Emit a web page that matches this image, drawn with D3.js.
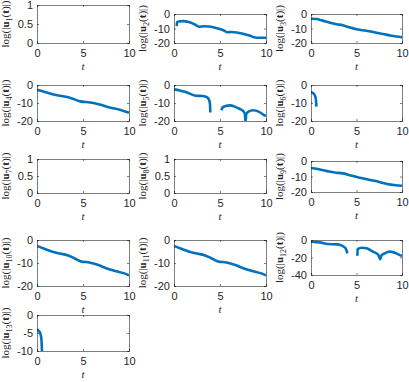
<!DOCTYPE html>
<html>
<head>
<meta charset="utf-8">
<script src="https://cdn.jsdelivr.net/npm/d3@7"></script>
<style>
  body { margin: 0; background: #fff; }
</style>
</head>
<body>
<div id="chart"></div>
<script>
// log(|u_k(t)|), [t, value] pairs, null = gap in the curve
const u1 = []
const u2 = [[0.3,-8.4],[0.33,-5.8],[0.5,-5.2],[1,-4.9],[1.6,-5.6],[2.2,-7],[2.8,-8.8],[3.2,-8.4],[3.8,-8.6],[4.4,-9.4],[5,-10.4],[5.5,-11.6],[5.8,-12.6],[6.2,-12.4],[6.8,-12.7],[7.5,-13.6],[8.2,-14.8],[8.8,-16.2],[9.3,-16.4],[10,-16.4]]
const u3 = [[0,-3.3],[0.6,-3.5],[1.2,-4.4],[2,-5.8],[2.8,-7],[3.5,-7.8],[4.2,-9.2],[5,-10.5],[5.7,-11.2],[6.4,-11.9],[7.2,-13],[7.9,-13.8],[8.7,-14.8],[9.4,-15.5],[10,-16]]
const u4 = [[0,-2.7],[0.7,-3.6],[1.4,-4.7],[2.5,-6],[3.3,-6.7],[3.9,-7.6],[4.7,-9.1],[5.8,-9.7],[6.8,-10.8],[7.9,-12.5],[9,-13.7],[10,-15.4]]
const u5 = [[0,-2.4],[0.6,-3],[1.2,-3.8],[1.9,-5.2],[2.4,-6],[3.1,-6.1],[3.5,-6.6],[3.75,-7.6],[3.9,-10],[3.95,-15.3],null,
            [5.15,-14],[5.3,-12.4],[5.6,-11.7],[6.1,-11.3],[6.6,-12],[7.1,-13.2],[7.5,-14.4],[7.7,-16],[7.78,-20.5],[7.85,-16.3],[8.1,-14.8],[8.6,-14],[9.2,-14.8],[9.7,-16.4],[10,-17.2]]
const u6 = [[0,-3.8],[0.2,-4.4],[0.4,-5.6],[0.52,-7.4],[0.6,-12]]
const u7 = []
const u8 = []
const u9 = [[0,-4.5],[1,-5.5],[2,-6.8],[2.6,-7.4],[3.5,-8],[4.5,-9.5],[5.5,-11],[6.5,-12.3],[7.5,-13.5],[8.5,-15],[9.3,-15.6],[10,-16]]
const u10 = [[0,-2.6],[0.8,-3.8],[1.6,-5],[2.5,-5.9],[3.3,-6.6],[4,-7.8],[4.8,-9.3],[5.7,-9.8],[6.6,-10.8],[7.6,-12.4],[8.6,-13.6],[9.4,-14.4],[10,-15.4]]
const u11 = [[0,-2.6],[0.8,-3.8],[1.6,-5],[2.5,-5.9],[3.3,-6.6],[4,-7.8],[4.8,-9.3],[5.7,-9.8],[6.6,-10.8],[7.6,-12.4],[8.6,-13.6],[9.4,-14.4],[10,-15.4]]
const u12 = [[0,-2],[0.6,-2.4],[1.1,-3],[1.8,-4.6],[2.9,-5],[3.4,-6.5],[3.8,-9.5],[4,-15.2],null,
             [5.1,-18],[5.12,-10.5],[5.6,-8.8],[6.1,-9.5],[6.8,-13.3],[7.4,-17],[7.6,-22],[7.75,-17.5],[8.1,-15.2],[8.6,-13.3],[9.2,-14.5],[9.7,-17],[10,-18.3]]
const u13 = [[0,-4],[0.18,-4.4],[0.36,-5.1],[0.47,-6.5],[0.55,-10.5]]

const series = [u1, u2, u3, u4, u5, u6, u7, u8, u9, u10, u11, u12, u13]
const yDomains = [[0,1],[-20,0],[-20,0],[-20,0],[-20,0],[-20,0],[0,1],[0,1],[-20,0],[-20,0],[-20,0],[-40,0],[-10,0]]
const yTicks = [[0,0.5,1],[-20,-10,0],[-20,-10,0],[-20,-10,0],[-20,-10,0],[-20,-10,0],[0,0.5,1],[0,0.5,1],[-20,-10,0],[-20,-10,0],[-20,-10,0],[-40,-20,0],[-10,-5,0]]
const xTicks = [0, 5, 10]
const xDomain = [0, 10]

// axes boxes [left, top, right, bottom] in page pixels (panels got different heights in the original)
const colX = [[37,129],[174,266],[311,402]]
const rowY = [[5,43],[14,43],[14,43],[85,121],[85,121],[85,121],[159,193],[159,193],[161,192],[240,286],[240,286],[240,275],[315,351]]

const W = 409, H = 382
const blue = "#0072BD", ink = "#262626"

const svg = d3.select("#chart").append("svg")
  .attr("width", W).attr("height", H)
  .style("font-family", "'Liberation Sans', Arial, sans-serif")

series.forEach((data, i) => {
  const [x0, x1] = colX[i % 3]
  const [y0, y1] = rowY[i]
  const w = x1 - x0, h = y1 - y0

  const x = d3.scaleLinear().domain(xDomain).range([0, w])
  const y = d3.scaleLinear().domain(yDomains[i]).range([h, 0])

  const g = svg.append("g").attr("transform", `translate(${x0},${y0})`)

  // clip curves to the box like matlab does
  g.append("clipPath").attr("id", "clip" + i)
    .append("rect").attr("width", w).attr("height", h)

  g.append("path")
    .datum(data)
    .attr("clip-path", `url(#clip${i})`)
    .attr("fill", "none")
    .attr("stroke", blue)
    .attr("stroke-width", 2.6)
    .attr("stroke-linejoin", "round")
    .attr("d", d3.line()
      .defined(d => d)
      .x(d => x(d[0]))
      .y(d => y(d[1]))
      .curve(d3.curveMonotoneX)
    )

  const fmt = d => String(d)

  // bottom axis with labels, ticks pointing inwards
  const bx = g.append("g").attr("transform", `translate(0,${h})`)
    .call(d3.axisBottom(x).tickValues(xTicks).tickSize(-2).tickPadding(6).tickFormat(fmt))
  // top axis (ticks only)
  const tx = g.append("g")
    .call(d3.axisTop(x).tickValues(xTicks).tickSize(-2).tickFormat(""))
  // left axis with labels
  const ly = g.append("g")
    .call(d3.axisLeft(y).tickValues(yTicks[i]).tickSize(-2).tickPadding(4).tickFormat(fmt))
  // right axis (ticks only)
  const ry = g.append("g").attr("transform", `translate(${w},0)`)
    .call(d3.axisRight(y).tickValues(yTicks[i]).tickSize(-2).tickFormat(""))

  ;[bx, tx, ly, ry].forEach(a => {
    a.selectAll("path, line").attr("stroke", ink).attr("stroke-width", 0.6)
    a.selectAll("text").attr("fill", ink).style("font-size", "11px").style("font-family", "'Liberation Sans', Arial, sans-serif")
  })

  // x label
  g.append("text")
    .attr("x", w / 2).attr("y", h + 27)
    .attr("text-anchor", "middle")
    .style("font-family", "'Liberation Serif', 'DejaVu Serif', serif")
    .style("font-style", "italic")
    .style("font-size", "11px")
    .attr("fill", ink)
    .text("t")

  // y label  log(|u_k(t)|)
  const lab = g.append("text")
    .attr("transform", `translate(-28,${h / 2}) rotate(-90)`)
    .attr("text-anchor", "middle")
    .style("font-family", "'Liberation Serif', 'DejaVu Serif', serif")
    .style("font-size", "11px")
    .attr("fill", ink)
  lab.append("tspan").text("log(|")
  lab.append("tspan").style("font-weight", "bold").text("u")
  lab.append("tspan").attr("dy", 2.5).style("font-size", "8px").text(i + 1)
  lab.append("tspan").attr("dy", -2.5).text("(")
  lab.append("tspan").style("font-weight", "bold").text("t")
  lab.append("tspan").text(")|)")
})
</script>
</body>
</html>
